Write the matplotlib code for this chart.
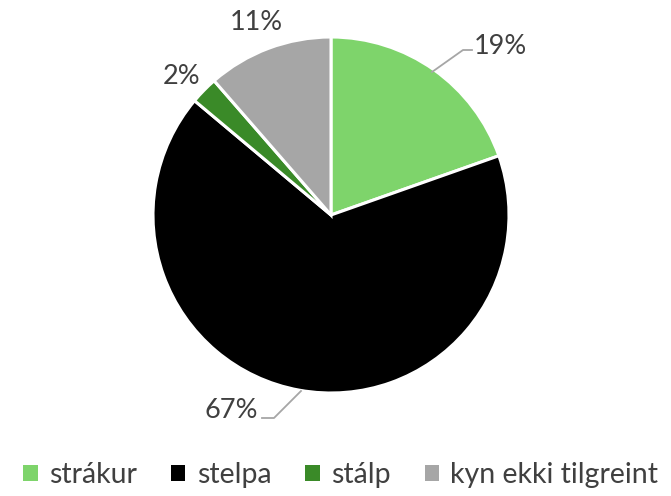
import matplotlib
matplotlib.use("Agg")
import matplotlib.pyplot as plt
from matplotlib.patches import Patch

categories = ["strákur", "stelpa", "stálp", "kyn ekki tilgreint"]
shares = [19.6, 66.5, 2.5, 11.4]
pct_labels = ["19%", "67%", "2%", "11%"]
colors = ["#7ED46B", "#000000", "#3A8A28", "#A6A6A6"]

plt.rcParams['font.family'] = ['Lato', 'DejaVu Sans']
txt = "#404040"

W, H = 671, 496
fig = plt.figure(figsize=(W/100, H/100), dpi=100)
cx, cy, r = 331, 215, 178
ax = fig.add_axes([(cx-r)/W, (H-cy-r)/H, 2*r/W, 2*r/H])
ax.pie(shares, colors=colors, startangle=90, counterclock=False, radius=1,
       wedgeprops=dict(edgecolor="white", linewidth=2.2))
ax.set_xlim(-1, 1); ax.set_ylim(-1, 1)
ax.set_aspect('equal')
ax.axis('off')

def d(px, py):
    return ((px-cx)/r, (cy-py)/r)

label_pos = [d(500, 46), d(231, 411), d(182, 76), d(256, 22)]
for (x, y), t in zip(label_pos, pct_labels):
    ax.text(x, y, t, ha='center', va='center', fontsize=19.5, color=txt, clip_on=False)

lc = "#A6A6A6"
for pts in ([d(432, 72), d(463, 50), d(472, 50)], [d(301, 391), d(274, 418), d(262, 418)]):
    ax.plot([p[0] for p in pts], [p[1] for p in pts], color=lc, lw=1.3, clip_on=False)

handles = [Patch(facecolor=c, edgecolor='none') for c in colors]
fig.legend(handles, categories, loc='center', bbox_to_anchor=(0.508, (H-475)/H), ncol=4,
           frameon=False, fontsize=20.5, labelcolor=txt, handlelength=0.5, handleheight=0.5,
           handletextpad=0.4, columnspacing=1.2)

fig.savefig("out.png", dpi=100)
